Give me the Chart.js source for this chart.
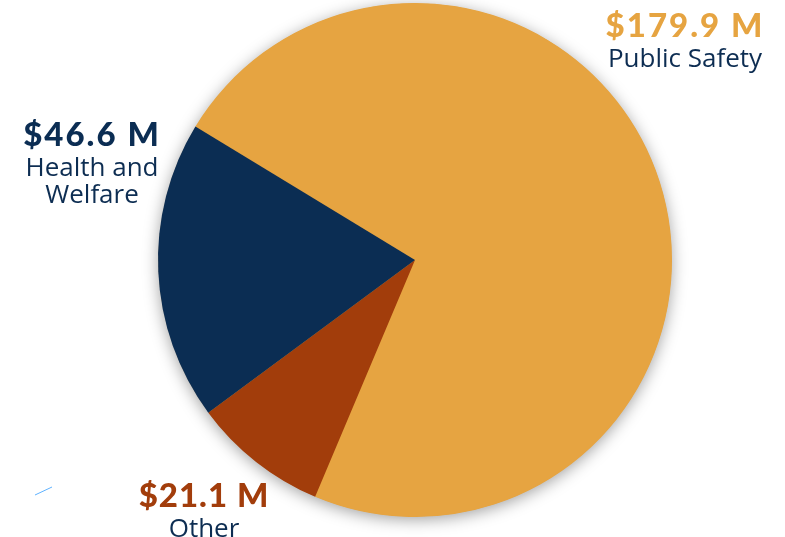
<!DOCTYPE html>
<html>
<head>
<meta charset="utf-8">
<script src="https://cdn.jsdelivr.net/npm/chart.js@4/dist/chart.umd.min.js"></script>
<style>
  html, body { margin: 0; padding: 0; background: #fff; }
  #wrap { width: 785px; height: 537px; position: relative; }
</style>
</head>
<body>
<div id="wrap"><canvas id="mycanvas"></canvas></div>
<script>
// data, clockwise from the upper-left edge
var categories = ["Public Safety", "Other", "Health and Welfare"];
var values = [179.9, 21.1, 46.6];
var valueLabels = ["$179.9 M", "$21.1 M", "$46.6 M"];
var colors = ["#E6A441", "#A23D0B", "#0B2D53"];

//-----------------------------------------------------------------------------------------

// soft grey shadow under the whole pie (not between slices)
var shadowPlugin = {
    id: "pieShadow",
    beforeDatasetsDraw: function(chart){
        const arc = chart.getDatasetMeta(0).data[0];
        if (!arc) return;
        const ctx = chart.ctx;
        ctx.save();
        ctx.shadowColor = "rgba(0,0,0,0.38)";
        ctx.shadowBlur = 16;
        ctx.shadowOffsetY = 3;
        ctx.fillStyle = colors[0];
        ctx.beginPath();
        ctx.arc(arc.x, arc.y, arc.outerRadius - 0.5, 0, Math.PI * 2);
        ctx.fill();
        ctx.restore();
    }
};

// outside labels: value in bold colour, name in navy below
var labelPlugin = {
    id: "outLabels",
    afterDraw: function(chart){
        const ctx = chart.ctx;
        const spots = [
            {x: 685, y: 37, lines: ["Public Safety"]},
            {x: 204, y: 507, lines: ["Other"]},
            {x: 92, y: 146, lines: ["Health and", "Welfare"]}
        ];
        ctx.save();
        ctx.textAlign = "center";
        ctx.textBaseline = "alphabetic";
        for (var i = 0; i < spots.length; i++){
            var s = spots[i];
            ctx.fillStyle = colors[i];
            ctx.font = "900 33px Lato";
            ctx.letterSpacing = i == 1 ? "1px" : "2px";
            ctx.fillText(valueLabels[i], s.x, s.y);
            ctx.fillStyle = "#0D2D52";
            ctx.font = "400 26px 'Open Sans'";
            ctx.letterSpacing = "0px";
            for (var j = 0; j < s.lines.length; j++){
                ctx.fillText(s.lines[j], s.x, s.y + 30 + j * 27);
            }
        }
        // little stray stroke bottom-left
        ctx.strokeStyle = "#5FB2FF";
        ctx.lineWidth = 1;
        ctx.beginPath();
        ctx.moveTo(35, 495);
        ctx.lineTo(52, 487);
        ctx.stroke();
        ctx.restore();
    }
};

//-----------------------------------------------------------------------------------------

function drawchart(){
    const canvas = document.getElementById("mycanvas");
    const ctx = canvas.getContext("2d");
    new Chart(ctx, {
        type: "pie",
        data: {
            labels: categories,
            datasets: [{
                data: values,
                backgroundColor: colors,
                borderWidth: 0
            }]
        },
        options: {
            responsive: true,
            maintainAspectRatio: false,
            animation: false,
            rotation: -58.7,
            layout: { padding: { left: 158, right: 113, top: 3, bottom: 20 } },
            plugins: {
                legend: { display: false },
                tooltip: { enabled: false }
            }
        },
        plugins: [shadowPlugin, labelPlugin]
    });
}

drawchart();
</script>
</body>
</html>
